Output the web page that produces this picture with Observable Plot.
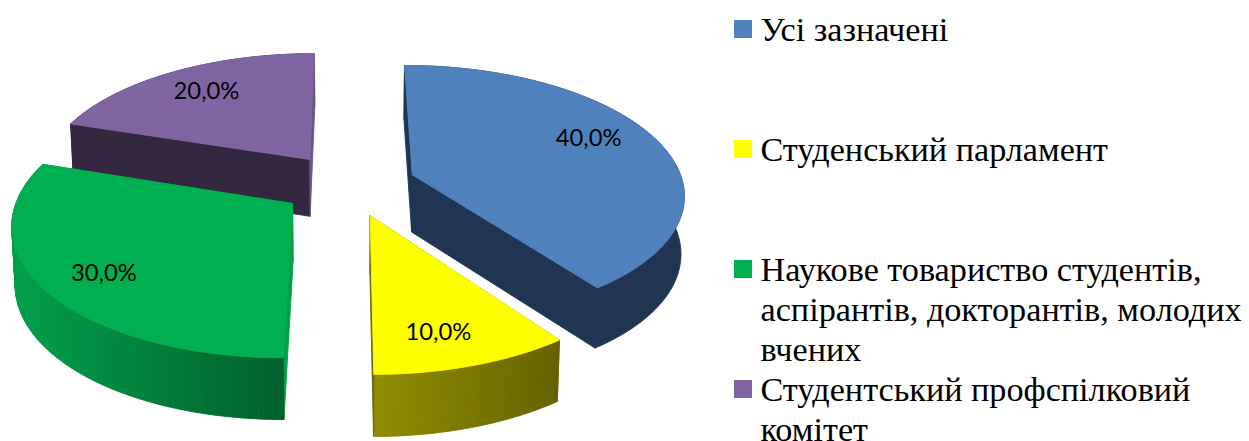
<!DOCTYPE html>
<html><head><meta charset="utf-8">
<script src="https://cdn.jsdelivr.net/npm/d3@7"></script>
<script src="https://cdn.jsdelivr.net/npm/@observablehq/plot@0.6"></script>
<style>html,body{margin:0;padding:0;background:#fff;overflow:hidden}svg{display:block;overflow:visible}</style>
</head><body><div id="chart"></div>
<script>
const categories = ["Усі зазначені","Студенський парламент","Наукове товариство студентів,\nаспірантів, докторантів, молодих\nвчених","Студентський профспілковий\nкомітет"];
const values = [40,10,30,20];
const topColors = ["#4F81BD","#FFFF00","#00B050","#8064A2"];
const startEdgeColors = ["#1F3552","#6A6800","#00A04A","#33283F"];
const endEdgeColors = ["#1F3552","#6A6800","#00A04A","#6A5488"];
const wallFrom = ["#1F3552","#908D00","#00A04A","#33283F"];
const wallTo = ["#1F3552","#666200","#005F2C","#33283F"];
const labelR = [0.75,0.78,0.78,0.78];
const labelDx = [-7,-10,2,5];
const labelDy = [-8,4,5,2];
const drawOrder = [3,0,2,1];

const W=1249,H=441;
const view={cx:348,cy:184,a:271,b:127,k:0.139,e:0.25,h:57.5,k2:0.06,m:0.01};
function project(px,pz,bottom){
  const w=1+view.k*pz;
  const X=view.a*px/w, Y=-view.b*pz/w;
  if(!bottom) return {x:view.cx+X,y:view.cy+Y};
  return {x:view.cx+X*(1-view.m),y:view.cy+Y+view.h/(1+view.k2*pz)};
}
const total=d3.sum(values);
let acc=0;
const slices=values.map((v,i)=>{const s=acc/total*2*Math.PI;acc+=v;const e=acc/total*2*Math.PI;
  const mid=(s+e)/2;return {i,s,e,mid,ox:view.e*Math.sin(mid),oz:view.e*Math.cos(mid)};});
const disk=(sl,t,r=1)=>[sl.ox+r*Math.sin(t),sl.oz+r*Math.cos(t)];
const polys=[];
let pid=0;
function addPoly(pts,fill){const id=pid++;[...pts,pts[0]].forEach(p=>polys.push({id,x:p.x,y:p.y,fill}));}
for(const idx of drawOrder){
  const sl=slices[idx];
  const n=Math.max(24,Math.round(values[idx]*4));
  const ts=d3.range(n+1).map(j=>sl.s+(sl.e-sl.s)*j/n);
  const tops=ts.map(t=>project(...disk(sl,t),false));
  const bots=ts.map(t=>project(...disk(sl,t),true));
  const xr=d3.extent(tops,d=>d.x);
  const col=d3.interpolateRgb(wallFrom[idx],wallTo[idx]);
  const aT=project(sl.ox,sl.oz,false),aB=project(sl.ox,sl.oz,true);
  addPoly([aT,tops[0],bots[0],aB],startEdgeColors[idx]);
  if(wallFrom[idx]===wallTo[idx]){
    addPoly([...tops,...bots.slice().reverse()],wallFrom[idx]);
  } else {
    for(let j=0;j<n;j++){
      const f=col(((tops[j].x+tops[j+1].x)/2-xr[0])/(xr[1]-xr[0]));
      addPoly([tops[j],tops[j+1],bots[j+1],bots[j]],f);
    }
  }
  addPoly([aT,tops[n],bots[n],aB],endEdgeColors[idx]);
  addPoly([aT,...tops],topColors[idx]);
}
const labels=slices.map(sl=>{
  const p=project(...disk(sl,sl.mid,labelR[sl.i]),false);
  return {x:p.x+labelDx[sl.i],y:p.y+labelDy[sl.i],t:values[sl.i].toFixed(1).replace(".",",")+"%"};
});
const legend={x:734,size:18,top:29,step:120,textX:760,textTop:12,fs:34.2,lh:40};
const legendRows=categories.map((c,i)=>({c,i,color:topColors[i],
  x1:legend.x,x2:legend.x+legend.size,
  y1:legend.top+legend.step*i-legend.size/2,y2:legend.top+legend.step*i+legend.size/2,
  tx:legend.textX,ty:legend.textTop+legend.step*i}));
const chart=Plot.plot({
  width:W,height:H,margin:0,
  x:{domain:[0,W],range:[0,W],axis:null},
  y:{domain:[0,H],range:[0,H],axis:null},
  color:{type:"identity"},
  marks:[
    Plot.line(polys,{x:"x",y:"y",z:"id",fill:"fill",stroke:"fill",strokeWidth:0.9,curve:"linear"}),
    Plot.text(labels,{x:"x",y:"y",text:"t",fontFamily:"Lato",fontSize:23.8,fill:"#000"}),
    Plot.rect(legendRows,{x1:"x1",x2:"x2",y1:"y1",y2:"y2",fill:"color",inset:0}),
    Plot.text(legendRows,{x:"tx",y:"ty",text:"c",textAnchor:"start",lineAnchor:"top",fontFamily:"Liberation Serif",fontSize:legend.fs,lineHeight:legend.lh/legend.fs,fill:"#000"})
  ]
});
document.getElementById("chart").appendChild(chart);
</script></body></html>
